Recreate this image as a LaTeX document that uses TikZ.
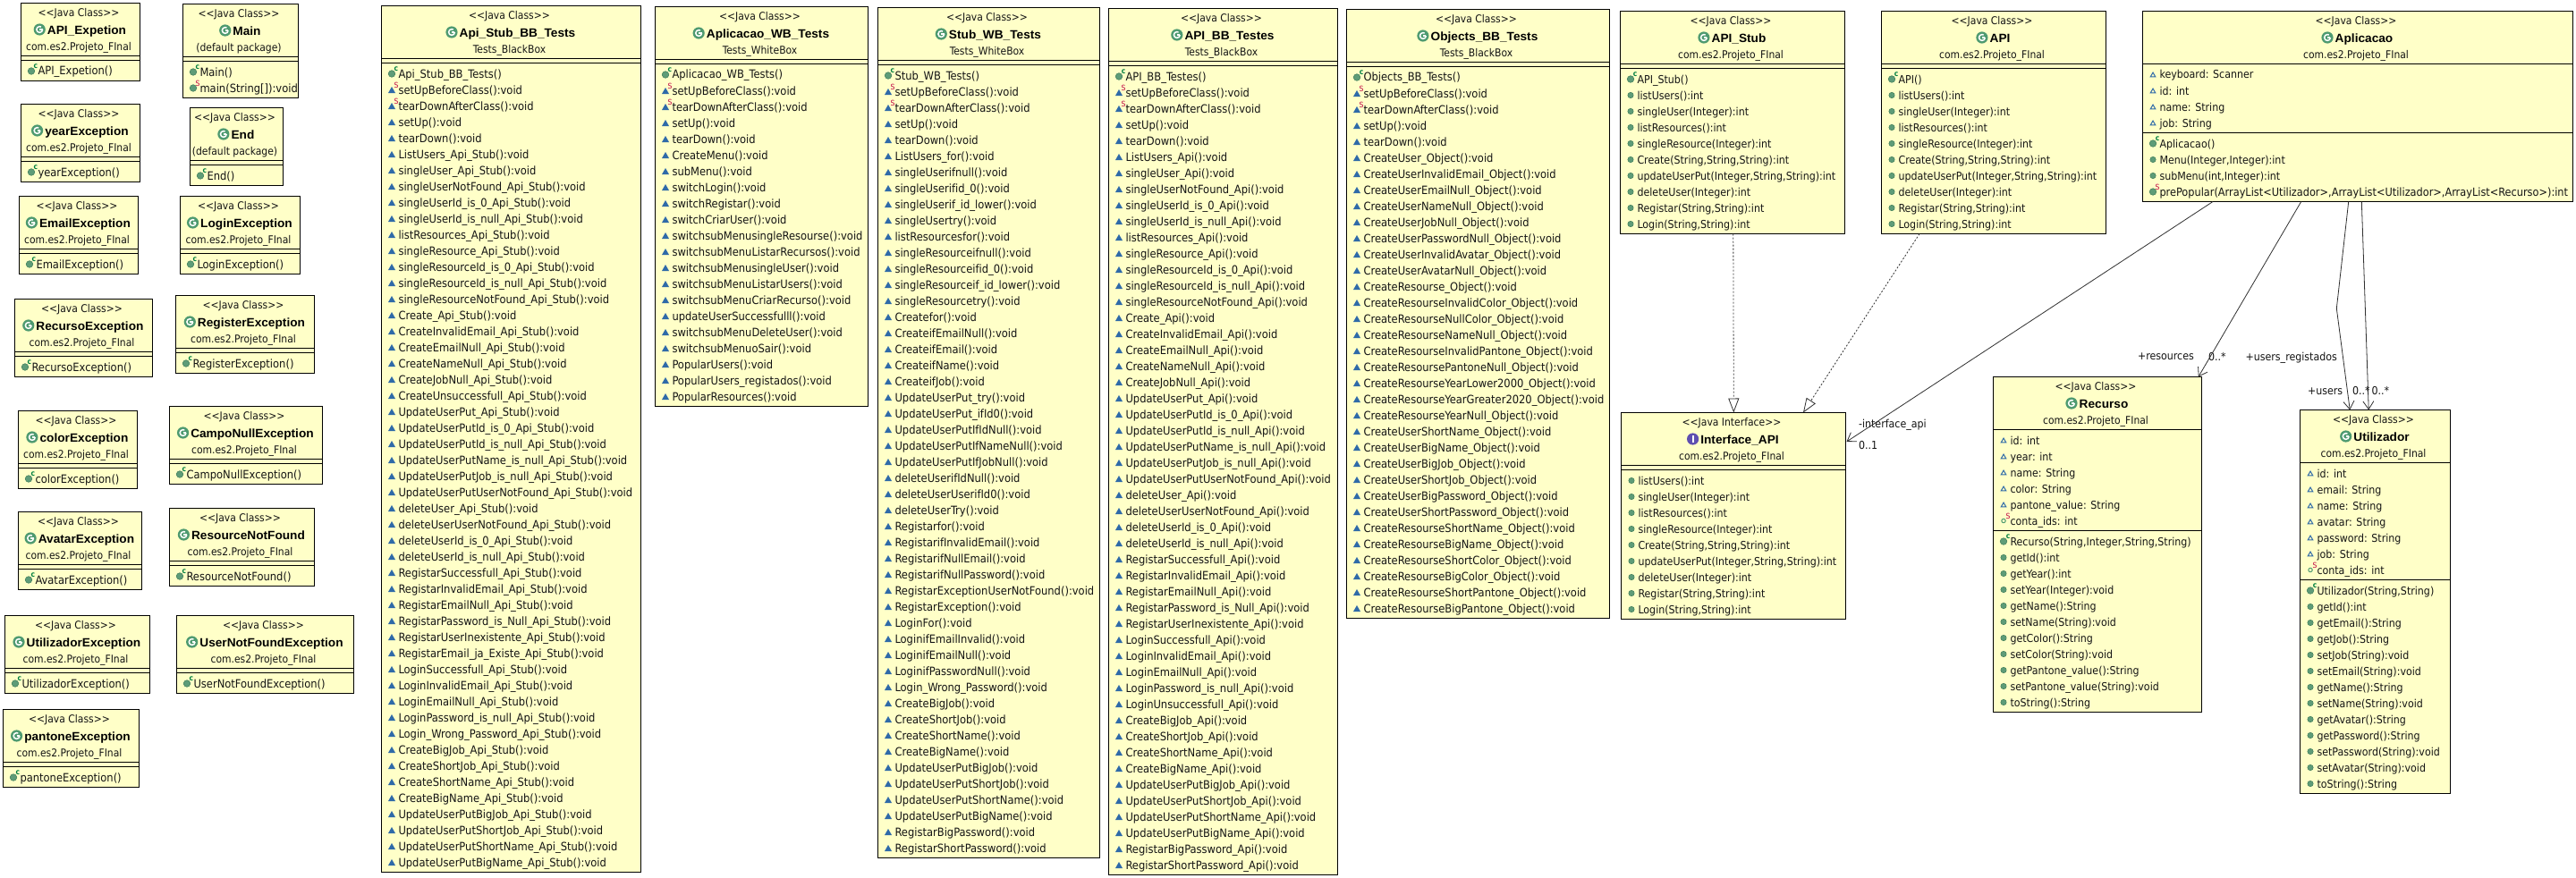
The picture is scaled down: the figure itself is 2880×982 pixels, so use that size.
\documentclass[tikz,border=0pt]{standalone}
\usepackage{fontspec}
\setmainfont{DejaVu Sans Condensed}[Ligatures=NoCommon]
\newfontfamily\namefont{Liberation Sans}[FakeStretch=1.02,Ligatures=NoCommon]
\usetikzlibrary{arrows.meta}
\definecolor{boxfill}{HTML}{FFFFC8}
\definecolor{inkc}{HTML}{141414}
\definecolor{greenball}{HTML}{5E9C78}
\definecolor{greenedge}{HTML}{3E7C58}
\definecolor{classgreen}{HTML}{4E9A70}
\definecolor{ifacepurple}{HTML}{5F4FB0}
\definecolor{triblue}{HTML}{2F6AA8}
\definecolor{statred}{HTML}{C00040}
\definecolor{ctorgreen}{HTML}{008040}
\definecolor{linkgray}{HTML}{303030}
\newcommand\memsz{12.8}
\newcommand\fsmall{\fontsize{\memsz}{14}\selectfont}
\newcommand\fhead{\fontsize{12}{14}\selectfont}
\newcommand\fname{\namefont\fontsize{13.4}{16}\selectfont\bfseries}
\newcommand\ftiny{\fontsize{8.5}{9}\selectfont}
\tikzset{
  umlbox/.style={draw=black,line width=1pt,fill=boxfill,inner sep=0pt,outer sep=0pt,rectangle},
  uline/.style={draw=black,line width=1pt},
  txt/.style={inner sep=0pt,outer sep=0pt,text=inkc,font=\fsmall},
  headtxt/.style={inner sep=0pt,outer sep=0pt,text=inkc,font=\fhead},
  nametxt/.style={inner sep=0pt,outer sep=0pt,text=black,font=\fname},
  markc/.style={inner sep=0pt,outer sep=0pt,text=ctorgreen,font=\ftiny\bfseries},
  marks/.style={inner sep=0pt,outer sep=0pt,text=statred,font=\ftiny},
  realize/.style={draw=linkgray,line width=.8pt,dash pattern=on 2pt off 2pt,-{Triangle[open,fill=white,length=16pt,width=12pt,line width=.8pt]}},
  assoc/.style={draw=linkgray,line width=.8pt,-{Straight Barb[length=9pt,width=12pt,line width=.8pt]}}
}
\newcount\rowcnt
\newcommand\ubox[8]{% id L T R B kind name pkg
  \pgfmathsetmacro\tmpcx{(#2+#4)/2}\pgfmathsetmacro\tmpcy{(#3+#5)/2}
  \pgfmathsetmacro\tmpw{#4-#2}\pgfmathsetmacro\tmph{#5-#3}
  \node[umlbox,minimum width=\tmpw pt,minimum height=\tmph pt] (#1) at (\tmpcx,\tmpcy) {};
  \xdef\curid{#1}\xdef\curL{#2}\xdef\curR{#4}\global\rowcnt=0
  \pgfmathsetmacro\tmpa{\tmpcx-2}\pgfmathsetmacro\tmpn{\tmpcx+7}
  \pgfmathsetmacro\tmpsb{#3+15.3}\pgfmathsetmacro\tmpnb{#3+34.8}\pgfmathsetmacro\tmppb{#3+53}
  \node[headtxt,anchor=base] (#1-st) at (\tmpa,\tmpsb) {<{}<Java \ifx#6iInterface\else Class\fi>{}>};
  \node[nametxt,anchor=base] (#1-nm) at (\tmpn,\tmpnb) {#7};
  \node[headtxt,anchor=base] (#1-pk) at (\tmpa,\tmppb) {#8};
  \pgfmathsetmacro\tmpic{#3+29.5}
  \ifx#6i
    \fill[ifacepurple] ([shift={(-8.7,0)}]#1-nm.west |- \tmpa,\tmpic) circle (6.6pt);
    \draw[white,line width=1.8pt] ([shift={(-8.7,-3.6)}]#1-nm.west |- \tmpa,\tmpic) -- ++(0,7.2);
  \else
    \fill[classgreen] ([shift={(-8.7,0)}]#1-nm.west |- \tmpa,\tmpic) circle (6.6pt);
    \draw[white,line width=1.5pt] ([shift={(-8.7,0)}]#1-nm.west |- \tmpa,\tmpic) ++(3.4,0) arc[start angle=0,end angle=-300,radius=3.4pt];
    \draw[white,line width=1.2pt] ([shift={(-8.7,0)}]#1-nm.west |- \tmpa,\tmpic) -- ++(3.4,0);
  \fi
  \pgfmathsetmacro\tmpy{#3+59}\xdef\sepy{\tmpy}
  \draw[uline] (#2,\tmpy) -- (#4,\tmpy);
  \pgfmathsetmacro\tmpy{#3+71}\xdef\cury{\tmpy}
}
\newcommand\usep{%
  \pgfmathsetmacro\tmpy{\sepy+5}\xdef\sepy{\tmpy}
  \draw[uline] (\curL,\sepy) -- (\curR,\sepy);
  \pgfmathsetmacro\tmpy{\sepy+12}\xdef\cury{\tmpy}
}
\newcommand\memtext[1]{%
  \global\advance\rowcnt by 1
  \pgfmathsetmacro\tmpx{\curL+19}\pgfmathsetmacro\tmpb{\cury+4.5}
  \node[txt,anchor=base west] (\curid-\the\rowcnt) at (\tmpx,\tmpb) {#1};
  \pgfmathsetmacro\tmpy{\cury+18}\xdef\cury{\tmpy}
  \pgfmathsetmacro\tmpy{\sepy+18}\xdef\sepy{\tmpy}
}
\newcommand\icoxy{\pgfmathsetmacro\ix{\curL+11.5}\pgfmathsetmacro\iy{\cury}}
\newcommand\markC{\pgfmathsetmacro\jx{\ix+5}\pgfmathsetmacro\jy{\iy-5.5}
  \node[markc] (\curid-\the\rowcnt-c) at (\jx,\jy) {c};}
\newcommand\markS{\pgfmathsetmacro\jx{\ix+5}\pgfmathsetmacro\jy{\iy-5.5}
  \node[marks] (\curid-\the\rowcnt-s) at (\jx,\jy) {S};}
\newcommand\ball[1]{\fill[greenball,draw=greenedge,line width=.5pt] (\ix,\iy) circle (#1pt);}
\newcommand\tri{\fill[triblue] (\ix-4,\iy+3.5) -- (\ix+4,\iy+3.5) -- (\ix,\iy-3.5) -- cycle;}
\newcommand\otri{\draw[triblue,line width=1pt,fill=boxfill] (\ix-2.8,\iy+2.4) -- (\ix+2.8,\iy+2.4) -- (\ix,\iy-2.4) -- cycle;}
\newcommand\mC[1]{\icoxy\ball{3.8}\markC\memtext{#1}}
\newcommand\mP[1]{\icoxy\ball{3.2}\memtext{#1}}
\newcommand\mPS[1]{\icoxy\ball{3.8}\markS\memtext{#1}}
\newcommand\mT[1]{\icoxy\tri\memtext{#1}}
\newcommand\mTS[1]{\icoxy\tri\markS\memtext{#1}}
\newcommand\aT[1]{\icoxy\otri\memtext{#1}}
\newcommand\aPS[1]{\icoxy\draw[classgreen,line width=1pt,fill=boxfill] (\ix,\iy) circle (2.2pt);\markS\memtext{#1}}
\begin{document}
\catcode`\_=12
\begin{tikzpicture}[x=1pt,y=-1pt]
\useasboundingbox (0,0) rectangle (2880,982);
\fill[white] (0,0) rectangle (2880,982);
\def\pf{com.es2.Projeto_FInal}
% exceptions
\ubox{apiexp}{23.5}{3.5}{156.5}{90.5}{c}{API_Expetion}{\pf}\usep\mC{API_Expetion()}
\ubox{main}{204.5}{4.5}{333.5}{109.5}{c}{Main}{(default package)}\usep\mC{Main()}\mPS{main(String[]):void}
\ubox{yearexc}{23.5}{116.5}{156.5}{203.5}{c}{yearException}{\pf}\usep\mC{yearException()}
\ubox{endc}{212.5}{120.5}{316.5}{207.5}{c}{End}{(default package)}\usep\mC{End()}
\ubox{emailexc}{21.5}{219.5}{154.5}{306.5}{c}{EmailException}{\pf}\usep\mC{EmailException()}
\ubox{loginexc}{201.5}{219.5}{335.5}{306.5}{c}{LoginException}{\pf}\usep\mC{LoginException()}
\ubox{recexc}{16.5}{334.5}{170.5}{421.5}{c}{RecursoException}{\pf}\usep\mC{RecursoException()}
\ubox{regexc}{196.5}{330.5}{351.5}{417.5}{c}{RegisterException}{\pf}\usep\mC{RegisterException()}
\ubox{colorexc}{20.5}{459.5}{153.5}{546.5}{c}{colorException}{\pf}\usep\mC{colorException()}
\ubox{camponull}{189.5}{454.5}{360.5}{541.5}{c}{CampoNullException}{\pf}\usep\mC{CampoNullException()}
\ubox{avatarexc}{20.5}{572.5}{158.5}{659.5}{c}{AvatarException}{\pf}\usep\mC{AvatarException()}
\ubox{resnf}{189.5}{568.5}{351.5}{655.5}{c}{ResourceNotFound}{\pf}\usep\mC{ResourceNotFound()}
\ubox{utilexc}{5.5}{688.5}{167.5}{775.5}{c}{UtilizadorException}{\pf}\usep\mC{UtilizadorException()}
\ubox{usernf}{197.5}{688.5}{395.5}{775.5}{c}{UserNotFoundException}{\pf}\usep\mC{UserNotFoundException()}
\ubox{pantexc}{3.5}{793.5}{155.5}{880.5}{c}{pantoneException}{\pf}\usep\mC{pantoneException()}
% Api_Stub_BB_Tests
\ubox{apistubbb}{426.5}{6.5}{716.5}{975.5}{c}{Api_Stub_BB_Tests}{Tests_BlackBox}\usep
\mC{Api_Stub_BB_Tests()}
\mTS{setUpBeforeClass():void}
\mTS{tearDownAfterClass():void}
\mT{setUp():void}
\mT{tearDown():void}
\mT{ListUsers_Api_Stub():void}
\mT{singleUser_Api_Stub():void}
\mT{singleUserNotFound_Api_Stub():void}
\mT{singleUserId_is_0_Api_Stub():void}
\mT{singleUserId_is_null_Api_Stub():void}
\mT{listResources_Api_Stub():void}
\mT{singleResource_Api_Stub():void}
\mT{singleResourceId_is_0_Api_Stub():void}
\mT{singleResourceId_is_null_Api_Stub():void}
\mT{singleResourceNotFound_Api_Stub():void}
\mT{Create_Api_Stub():void}
\mT{CreateInvalidEmail_Api_Stub():void}
\mT{CreateEmailNull_Api_Stub():void}
\mT{CreateNameNull_Api_Stub():void}
\mT{CreateJobNull_Api_Stub():void}
\mT{CreateUnsuccessfull_Api_Stub():void}
\mT{UpdateUserPut_Api_Stub():void}
\mT{UpdateUserPutId_is_0_Api_Stub():void}
\mT{UpdateUserPutId_is_null_Api_Stub():void}
\mT{UpdateUserPutName_is_null_Api_Stub():void}
\mT{UpdateUserPutJob_is_null_Api_Stub():void}
\mT{UpdateUserPutUserNotFound_Api_Stub():void}
\mT{deleteUser_Api_Stub():void}
\mT{deleteUserUserNotFound_Api_Stub():void}
\mT{deleteUserId_is_0_Api_Stub():void}
\mT{deleteUserId_is_null_Api_Stub():void}
\mT{RegistarSuccessfull_Api_Stub():void}
\mT{RegistarInvalidEmail_Api_Stub():void}
\mT{RegistarEmailNull_Api_Stub():void}
\mT{RegistarPassword_is_Null_Api_Stub():void}
\mT{RegistarUserInexistente_Api_Stub():void}
\mT{RegistarEmail_ja_Existe_Api_Stub():void}
\mT{LoginSuccessfull_Api_Stub():void}
\mT{LoginInvalidEmail_Api_Stub():void}
\mT{LoginEmailNull_Api_Stub():void}
\mT{LoginPassword_is_null_Api_Stub():void}
\mT{Login_Wrong_Password_Api_Stub():void}
\mT{CreateBigJob_Api_Stub():void}
\mT{CreateShortJob_Api_Stub():void}
\mT{CreateShortName_Api_Stub():void}
\mT{CreateBigName_Api_Stub():void}
\mT{UpdateUserPutBigJob_Api_Stub():void}
\mT{UpdateUserPutShortJob_Api_Stub():void}
\mT{UpdateUserPutShortName_Api_Stub():void}
\mT{UpdateUserPutBigName_Api_Stub():void}
% Aplicacao_WB_Tests
\ubox{aplwb}{732.5}{7.5}{970.5}{454.5}{c}{Aplicacao_WB_Tests}{Tests_WhiteBox}\usep
\mC{Aplicacao_WB_Tests()}
\mTS{setUpBeforeClass():void}
\mTS{tearDownAfterClass():void}
\mT{setUp():void}
\mT{tearDown():void}
\mT{CreateMenu():void}
\mT{subMenu():void}
\mT{switchLogin():void}
\mT{switchRegistar():void}
\mT{switchCriarUser():void}
\mT{switchsubMenusingleResourse():void}
\mT{switchsubMenuListarRecursos():void}
\mT{switchsubMenusingleUser():void}
\mT{switchsubMenuListarUsers():void}
\mT{switchsubMenuCriarRecurso():void}
\mT{updateUserSuccessfulll():void}
\mT{switchsubMenuDeleteUser():void}
\mT{switchsubMenuoSair():void}
\mT{PopularUsers():void}
\mT{PopularUsers_registados():void}
\mT{PopularResources():void}
% Stub_WB_Tests
\ubox{stubwb}{981.5}{8.5}{1229.5}{959.5}{c}{Stub_WB_Tests}{Tests_WhiteBox}\usep
\mC{Stub_WB_Tests()}
\mTS{setUpBeforeClass():void}
\mTS{tearDownAfterClass():void}
\mT{setUp():void}
\mT{tearDown():void}
\mT{ListUsers_for():void}
\mT{singleUserifnull():void}
\mT{singleUserifid_0():void}
\mT{singleUserif_id_lower():void}
\mT{singleUsertry():void}
\mT{listResourcesfor():void}
\mT{singleResourceifnull():void}
\mT{singleResourceifid_0():void}
\mT{singleResourceif_id_lower():void}
\mT{singleResourcetry():void}
\mT{Createfor():void}
\mT{CreateifEmailNull():void}
\mT{CreateifEmail():void}
\mT{CreateifName():void}
\mT{CreateifJob():void}
\mT{UpdateUserPut_try():void}
\mT{UpdateUserPut_ifId0():void}
\mT{UpdateUserPutIfIdNull():void}
\mT{UpdateUserPutIfNameNull():void}
\mT{UpdateUserPutIfJobNull():void}
\mT{deleteUserifIdNull():void}
\mT{deleteUserUserifId0():void}
\mT{deleteUserTry():void}
\mT{Registarfor():void}
\mT{RegistarifInvalidEmail():void}
\mT{RegistarifNullEmail():void}
\mT{RegistarifNullPassword():void}
\mT{RegistarExceptionUserNotFound():void}
\mT{RegistarException():void}
\mT{LoginFor():void}
\mT{LoginifEmailInvalid():void}
\mT{LoginifEmailNull():void}
\mT{LoginifPasswordNull():void}
\mT{Login_Wrong_Password():void}
\mT{CreateBigJob():void}
\mT{CreateShortJob():void}
\mT{CreateShortName():void}
\mT{CreateBigName():void}
\mT{UpdateUserPutBigJob():void}
\mT{UpdateUserPutShortJob():void}
\mT{UpdateUserPutShortName():void}
\mT{UpdateUserPutBigName():void}
\mT{RegistarBigPassword():void}
\mT{RegistarShortPassword():void}
% API_BB_Testes
\ubox{apibb}{1239.5}{9.5}{1495.5}{978.5}{c}{API_BB_Testes}{Tests_BlackBox}\usep
\mC{API_BB_Testes()}
\mTS{setUpBeforeClass():void}
\mTS{tearDownAfterClass():void}
\mT{setUp():void}
\mT{tearDown():void}
\mT{ListUsers_Api():void}
\mT{singleUser_Api():void}
\mT{singleUserNotFound_Api():void}
\mT{singleUserId_is_0_Api():void}
\mT{singleUserId_is_null_Api():void}
\mT{listResources_Api():void}
\mT{singleResource_Api():void}
\mT{singleResourceId_is_0_Api():void}
\mT{singleResourceId_is_null_Api():void}
\mT{singleResourceNotFound_Api():void}
\mT{Create_Api():void}
\mT{CreateInvalidEmail_Api():void}
\mT{CreateEmailNull_Api():void}
\mT{CreateNameNull_Api():void}
\mT{CreateJobNull_Api():void}
\mT{UpdateUserPut_Api():void}
\mT{UpdateUserPutId_is_0_Api():void}
\mT{UpdateUserPutId_is_null_Api():void}
\mT{UpdateUserPutName_is_null_Api():void}
\mT{UpdateUserPutJob_is_null_Api():void}
\mT{UpdateUserPutUserNotFound_Api():void}
\mT{deleteUser_Api():void}
\mT{deleteUserUserNotFound_Api():void}
\mT{deleteUserId_is_0_Api():void}
\mT{deleteUserId_is_null_Api():void}
\mT{RegistarSuccessfull_Api():void}
\mT{RegistarInvalidEmail_Api():void}
\mT{RegistarEmailNull_Api():void}
\mT{RegistarPassword_is_Null_Api():void}
\mT{RegistarUserInexistente_Api():void}
\mT{LoginSuccessfull_Api():void}
\mT{LoginInvalidEmail_Api():void}
\mT{LoginEmailNull_Api():void}
\mT{LoginPassword_is_null_Api():void}
\mT{LoginUnsuccessfull_Api():void}
\mT{CreateBigJob_Api():void}
\mT{CreateShortJob_Api():void}
\mT{CreateShortName_Api():void}
\mT{CreateBigName_Api():void}
\mT{UpdateUserPutBigJob_Api():void}
\mT{UpdateUserPutShortJob_Api():void}
\mT{UpdateUserPutShortName_Api():void}
\mT{UpdateUserPutBigName_Api():void}
\mT{RegistarBigPassword_Api():void}
\mT{RegistarShortPassword_Api():void}
% Objects_BB_Tests
\ubox{objbb}{1505.5}{10.5}{1799.5}{691.5}{c}{Objects_BB_Tests}{Tests_BlackBox}\usep
\mC{Objects_BB_Tests()}
\mTS{setUpBeforeClass():void}
\mTS{tearDownAfterClass():void}
\mT{setUp():void}
\mT{tearDown():void}
\mT{CreateUser_Object():void}
\mT{CreateUserInvalidEmail_Object():void}
\mT{CreateUserEmailNull_Object():void}
\mT{CreateUserNameNull_Object():void}
\mT{CreateUserJobNull_Object():void}
\mT{CreateUserPasswordNull_Object():void}
\mT{CreateUserInvalidAvatar_Object():void}
\mT{CreateUserAvatarNull_Object():void}
\mT{CreateResourse_Object():void}
\mT{CreateResourseInvalidColor_Object():void}
\mT{CreateResourseNullColor_Object():void}
\mT{CreateResourseNameNull_Object():void}
\mT{CreateResourseInvalidPantone_Object():void}
\mT{CreateResoursePantoneNull_Object():void}
\mT{CreateResourseYearLower2000_Object():void}
\mT{CreateResourseYearGreater2020_Object():void}
\mT{CreateResourseYearNull_Object():void}
\mT{CreateUserShortName_Object():void}
\mT{CreateUserBigName_Object():void}
\mT{CreateUserBigJob_Object():void}
\mT{CreateUserShortJob_Object():void}
\mT{CreateUserBigPassword_Object():void}
\mT{CreateUserShortPassword_Object():void}
\mT{CreateResourseShortName_Object():void}
\mT{CreateResourseBigName_Object():void}
\mT{CreateResourseShortColor_Object():void}
\mT{CreateResourseBigColor_Object():void}
\mT{CreateResourseShortPantone_Object():void}
\mT{CreateResourseBigPantone_Object():void}
\def\memsz{12.3}
% API_Stub
\ubox{apistub}{1811.5}{12.5}{2062.5}{261.5}{c}{API_Stub}{\pf}\usep
\mC{API_Stub()}
\mP{listUsers():int}
\mP{singleUser(Integer):int}
\mP{listResources():int}
\mP{singleResource(Integer):int}
\mP{Create(String,String,String):int}
\mP{updateUserPut(Integer,String,String):int}
\mP{deleteUser(Integer):int}
\mP{Registar(String,String):int}
\mP{Login(String,String):int}
% API
\ubox{api}{2103.5}{12.5}{2354.5}{261.5}{c}{API}{\pf}\usep
\mC{API()}
\mP{listUsers():int}
\mP{singleUser(Integer):int}
\mP{listResources():int}
\mP{singleResource(Integer):int}
\mP{Create(String,String,String):int}
\mP{updateUserPut(Integer,String,String):int}
\mP{deleteUser(Integer):int}
\mP{Registar(String,String):int}
\mP{Login(String,String):int}
% Aplicacao
\ubox{apl}{2395.5}{12.5}{2876.5}{225.5}{c}{Aplicacao}{\pf}
\aT{keyboard: Scanner}
\aT{id: int}
\aT{name: String}
\aT{job: String}
\usep
\mC{Aplicacao()}
\mP{Menu(Integer,Integer):int}
\mP{subMenu(int,Integer):int}
\def\memsz{12.6}
\mPS{prePopular(ArrayList<Utilizador>,ArrayList<Utilizador>,ArrayList<Recurso>):int}
\def\memsz{12.3}
% Interface_API
\ubox{iface}{1812.5}{461.5}{2063.5}{692.5}{i}{Interface_API}{\pf}\usep
\mP{listUsers():int}
\mP{singleUser(Integer):int}
\mP{listResources():int}
\mP{singleResource(Integer):int}
\mP{Create(String,String,String):int}
\mP{updateUserPut(Integer,String,String):int}
\mP{deleteUser(Integer):int}
\mP{Registar(String,String):int}
\mP{Login(String,String):int}
% Recurso
\ubox{recurso}{2228.5}{421.5}{2461.5}{796.5}{c}{Recurso}{\pf}
\aT{id: int}
\aT{year: int}
\aT{name: String}
\aT{color: String}
\aT{pantone_value: String}
\aPS{conta_ids: int}
\usep
\mC{Recurso(String,Integer,String,String)}
\mP{getId():int}
\mP{getYear():int}
\mP{setYear(Integer):void}
\mP{getName():String}
\mP{setName(String):void}
\mP{getColor():String}
\mP{setColor(String):void}
\mP{getPantone_value():String}
\mP{setPantone_value(String):void}
\mP{toString():String}
% Utilizador
\ubox{util}{2571.5}{458.5}{2739.5}{887.5}{c}{Utilizador}{\pf}
\aT{id: int}
\aT{email: String}
\aT{name: String}
\aT{avatar: String}
\aT{password: String}
\aT{job: String}
\aPS{conta_ids: int}
\usep
\mC{Utilizador(String,String)}
\mP{getId():int}
\mP{getEmail():String}
\mP{getJob():String}
\mP{setJob(String):void}
\mP{setEmail(String):void}
\mP{getName():String}
\mP{setName(String):void}
\mP{getAvatar():String}
\mP{getPassword():String}
\mP{setPassword(String):void}
\mP{setAvatar(String):void}
\mP{toString():String}
% connector labels
\node[txt,anchor=base west] (linterface) at (2078,478) {-interface_api};
\node[txt,anchor=base west] (lzeroone) at (2078,502.5) {0..1};
\node[txt,anchor=base west] (lres) at (2390,402) {+resources};
\node[txt,anchor=base west] (lresm) at (2469,403.5) {0..*};
\node[txt,anchor=base west] (lreg) at (2510.5,403.5) {+users_registados};
\node[txt,anchor=base west] (lusers) at (2580,441) {+users};
\node[txt,anchor=base west] (lregm) at (2630,441.5) {0..*};
\node[txt,anchor=base west] (lusersm) at (2651.6,441.5) {0..*};
% connectors
\draw[realize] ([shift={(0.8,0)}]apistub.south) -- ([shift={(0.3,0)}]iface.north);
\draw[realize] ([shift={(-83,0)}]api.south) -- ([shift={(78,0)}]iface.north);
\draw[assoc] ([shift={(-162,0)}]apl.south) -- ([shift={(1,-83)}]iface.east);
\draw[assoc] ([shift={(-63.3,0)}]apl.south) -- ([shift={(112.8,0)}]recurso.north);
\coordinate (bendreg) at (2612.3,345);
\draw[assoc] ([shift={(-10.3,0)}]apl.south) -- (bendreg) -- ([shift={(-28.3,0)}]util.north);
\draw[assoc] ([shift={(4.3,0)}]apl.south) -- ([shift={(-7.3,0)}]util.north);
\end{tikzpicture}
\end{document}
